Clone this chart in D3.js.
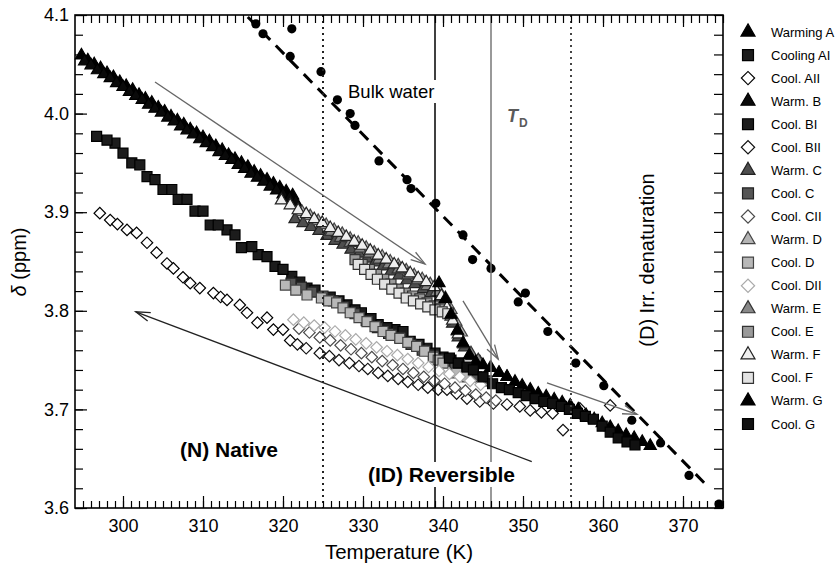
<!DOCTYPE html>
<html><head><meta charset="utf-8">
<script src="https://cdn.jsdelivr.net/npm/d3@7"></script>
<style>body{margin:0;background:#fff} svg{display:block}</style>
</head><body><svg id="c" width="836" height="566"></svg>
<script>
// ---------------- DATA ----------------
const xTicks = [300, 310, 320, 330, 340, 350, 360, 370];
const yTicks = [3.6, 3.7, 3.8, 3.9, 4.0, 4.1];

const warmA_T = [294.8,295.6,296.4,297.2,298.0,298.8,299.6,300.4,301.2,302.0,302.8,303.6,304.4,305.2,306.0,306.8,307.6,308.4,309.2,310.0,310.8,311.6,312.4,313.2,314.0,314.8,315.6,316.4,317.2,318.0,318.8,319.6,320.4,321.2];
const warmA_d = [4.059,4.054,4.050,4.046,4.041,4.037,4.032,4.028,4.024,4.019,4.015,4.011,4.006,4.002,3.997,3.993,3.989,3.984,3.980,3.976,3.972,3.967,3.963,3.958,3.954,3.950,3.946,3.941,3.937,3.933,3.929,3.925,3.921,3.917];

const coolAI_T = [296.7,299.0,301.1,303.0,305.0,306.9,309.0,310.9,313.0,314.8,316.9,319.0,321.1,323.0,325.9,328.0,329.8,331.9,334.0,335.9,338.0,340.0];
const coolAI_d = [3.977,3.970,3.950,3.936,3.923,3.913,3.901,3.887,3.882,3.864,3.857,3.845,3.835,3.823,3.814,3.806,3.798,3.786,3.781,3.769,3.762,3.753];

const coolAII_T = [297.1,298.4,299.3,300.5,301.7,303.0,304.2,305.5,306.3,307.5,308.4,309.6,311.3,312.2,313.0,314.6,315.5,316.8,318.0,318.8,320.0,320.9];
const coolAII_d = [3.899,3.892,3.888,3.882,3.879,3.869,3.859,3.848,3.843,3.834,3.828,3.823,3.818,3.814,3.811,3.806,3.798,3.788,3.793,3.781,3.781,3.770];

const warmB_T = [295.2,296.0,296.8,297.6,298.4,299.2,300.0,300.8,301.6,302.4,303.2,304.0,304.8,305.6,306.4,307.2,308.0,308.8,309.6,310.4,311.2,312.0,312.8,313.6,314.4,315.2,316.0,316.8,317.6,318.4,319.2,320.0,320.8,321.6];
const warmB_d = [4.053,4.049,4.044,4.040,4.036,4.031,4.027,4.022,4.018,4.014,4.009,4.005,4.001,3.996,3.992,3.987,3.983,3.979,3.974,3.970,3.966,3.961,3.957,3.953,3.948,3.944,3.939,3.935,3.931,3.926,3.922,3.918,3.914,3.910];

const coolBI_T = [298.0,300.0,302.1,304.0,306.1,308.0,310.0,311.9,314.0,316.1,318.0,320.0,322.1,324.0,327.0,329.0,331.0,333.0,335.0,337.0,339.0,341.0,342.0];
const coolBI_d = [3.973,3.960,3.948,3.933,3.923,3.913,3.901,3.887,3.877,3.865,3.855,3.842,3.829,3.821,3.810,3.801,3.792,3.783,3.779,3.766,3.757,3.750,3.747];

const coolBII_T = [321.8,322.9,324.6,325.8,327.0,328.3,329.5,330.6,331.9,333.1,334.4,335.6,336.9,338.1,339.4,340.5,341.7,343.0,344.6,346.3,348.0,349.6,350.9,352.3,353.7,355.0,357.1,360.9];
const coolBII_d = [3.766,3.762,3.757,3.754,3.750,3.747,3.744,3.741,3.737,3.734,3.731,3.728,3.725,3.722,3.720,3.720,3.716,3.711,3.708,3.706,3.705,3.703,3.699,3.697,3.696,3.679,3.701,3.704];

const warmC_T = [321.5,322.5,323.5,324.5,325.5,326.5,327.5,328.5,329.5,330.5,331.5,332.5,333.5,334.5,335.5,336.5,337.5,338.5,339.5,340.4,341.2,341.9,342.7,343.6,344.6,345.9,347.0,348.0];
const warmC_d = [3.893,3.889,3.885,3.881,3.876,3.871,3.867,3.862,3.858,3.853,3.849,3.845,3.840,3.836,3.831,3.827,3.822,3.818,3.811,3.800,3.787,3.773,3.763,3.754,3.748,3.742,3.737,3.733];

const coolC_T = [321.0,322.3,323.6,325.0,326.3,327.6,329.0,330.4,331.8,333.2,334.6,336.0,337.4,338.8,340.2,341.5,342.8,344.2,345.5];
const coolC_d = [3.828,3.824,3.819,3.815,3.810,3.804,3.797,3.790,3.783,3.777,3.773,3.766,3.760,3.755,3.749,3.743,3.737,3.733,3.729];

const coolCII_T = [322.0,323.3,324.6,325.9,327.2,328.5,329.8,331.1,332.4,333.7,335.0,336.3,337.6,338.9,340.2,341.5,342.8,344.1,345.4,346.6];
const coolCII_d = [3.782,3.778,3.773,3.770,3.765,3.761,3.757,3.753,3.749,3.745,3.741,3.737,3.733,3.729,3.726,3.722,3.719,3.715,3.712,3.709];

const warmD_T = [322.4,323.4,324.4,325.4,326.4,327.4,328.4,329.4,330.4,331.4,332.4,333.4,334.4,335.4,336.4,337.4,338.4,339.4,340.3,341.0,341.6,342.3];
const warmD_d = [3.900,3.896,3.891,3.887,3.882,3.878,3.873,3.869,3.864,3.859,3.855,3.850,3.846,3.841,3.836,3.832,3.827,3.822,3.813,3.801,3.789,3.778];

const coolD_T = [320.3,321.6,323.0,324.8,325.7,326.7,327.5,328.4,329.5,330.5,331.5,332.5,333.5,334.6,335.6,336.7,337.7,338.8,339.4,340.0,341.7,343.0];
const coolD_d = [3.826,3.821,3.816,3.813,3.810,3.808,3.803,3.798,3.793,3.789,3.784,3.779,3.775,3.772,3.768,3.764,3.759,3.753,3.750,3.747,3.737,3.733];

const coolDII_T = [321.3,322.6,323.9,325.2,326.5,327.8,329.1,330.4,331.7,333.0,334.3,335.6,336.9,338.2,339.5,340.8,342.1,343.4,344.7];
const coolDII_d = [3.791,3.788,3.785,3.783,3.779,3.775,3.771,3.767,3.763,3.759,3.755,3.751,3.747,3.743,3.739,3.736,3.733,3.729,3.725];

const warmE_T = [326.0,327.2,328.4,329.6,330.8,332.0,333.2,334.4,335.6,336.8,338.0,339.2,340.2,341.0,341.8,342.6,343.5,344.4];
const warmE_d = [3.880,3.874,3.869,3.863,3.858,3.852,3.847,3.842,3.836,3.831,3.825,3.819,3.808,3.794,3.779,3.766,3.757,3.750];

const coolE_T = [329.0,329.9,330.8,331.7,332.6,333.5,334.4,335.3,336.2,337.1,338.0,338.9,339.8,340.7];
const coolE_d = [3.852,3.847,3.842,3.837,3.832,3.827,3.822,3.818,3.815,3.812,3.808,3.805,3.802,3.798];

const warmF_T = [319.8,320.9,321.9,322.9,323.9,324.9,325.9,326.9,327.9,328.9,329.9,330.9,331.9,332.9,333.9,334.9,335.9,336.9,337.9,338.9,339.8,340.5,341.2,341.9];
const warmF_d = [3.912,3.907,3.902,3.898,3.893,3.889,3.884,3.879,3.875,3.870,3.866,3.861,3.856,3.852,3.847,3.843,3.838,3.833,3.829,3.824,3.815,3.803,3.790,3.776];

const coolF_T = [329.4,330.2,331.0,331.8,332.7,333.6,334.5,335.4,336.3,337.2,338.1,339.0,339.9,340.6];
const coolF_d = [3.847,3.842,3.837,3.832,3.827,3.822,3.818,3.813,3.810,3.807,3.804,3.801,3.799,3.797];

const warmG_T = [339.5,340.3,341.0,341.8,342.5,343.3,344.1,345.0,346.0,347.0,348.0,349.0,349.9,350.9,351.9,352.9,353.9,354.9,355.9,356.9,357.9,358.9,359.9,360.9,361.9,362.9,363.9,364.9,365.9];
const warmG_d = [3.828,3.812,3.796,3.780,3.767,3.755,3.748,3.745,3.742,3.737,3.733,3.728,3.724,3.720,3.716,3.713,3.710,3.707,3.704,3.700,3.694,3.690,3.686,3.682,3.678,3.674,3.671,3.667,3.663];

const coolG_T = [340.8,341.9,343.0,343.8,345.0,346.2,347.3,348.3,349.4,350.4,351.5,352.6,353.7,354.8,355.8,356.8,357.8,358.8,359.9,360.9,361.9,363.0,364.0];
const coolG_d = [3.752,3.747,3.743,3.740,3.733,3.726,3.722,3.720,3.717,3.714,3.711,3.708,3.706,3.703,3.700,3.696,3.693,3.690,3.683,3.677,3.671,3.667,3.664];

// bulk water
const bulkT = [316.6,317.5,321.1,320.9,324.75,326.8,328.4,329.0,332.0,335.5,336.0,339.1,342.5,343.7,346.0,350.3,349.4,353.1,356.6,360.1,363.6,367.2,370.75,374.5];
const bulkD = [4.091,4.081,4.086,4.058,4.0425,4.014,4.000,3.988,3.952,3.933,3.924,3.909,3.877,3.852,3.843,3.818,3.809,3.779,3.747,3.724,3.689,3.666,3.633,3.604];
const bulkLineT = [315.6, 373.2];
const bulkLineD = [4.098, 3.621];

// vertical reference temperatures
const vlineT = [325, 339, 346, 356];

// arrows (from -> to)
const arrowFromT = [304.0, 342.5, 353.0, 351.1];
const arrowFromD = [4.032, 3.810, 3.727, 3.647];
const arrowToT   = [337.75, 346.9, 364.25, 301.6];
const arrowToD   = [3.8475, 3.751, 3.695, 3.799];

const seriesNames = ["Warming A","Cooling AI","Cool. AII","Warm. B","Cool. BI","Cool. BII","Warm. C","Cool. C","Cool. CII","Warm. D","Cool. D","Cool. DII","Warm. E","Cool. E","Warm. F","Cool. F","Warm. G","Cool. G"];
const seriesT = [warmA_T,coolAI_T,coolAII_T,warmB_T,coolBI_T,coolBII_T,warmC_T,coolC_T,coolCII_T,warmD_T,coolD_T,coolDII_T,warmE_T,coolE_T,warmF_T,coolF_T,warmG_T,coolG_T];
const seriesD = [warmA_d,coolAI_d,coolAII_d,warmB_d,coolBI_d,coolBII_d,warmC_d,coolC_d,coolCII_d,warmD_d,coolD_d,coolDII_d,warmE_d,coolE_d,warmF_d,coolF_d,warmG_d,coolG_d];

// ---------------- STYLE ----------------
const styles = [
  {shape:"tri", fill:"#000", stroke:"#000"},
  {shape:"sq",  fill:"#1c1c1c", stroke:"#000"},
  {shape:"dia", fill:"#fff", stroke:"#000"},
  {shape:"tri", fill:"#0a0a0a", stroke:"#000"},
  {shape:"sq",  fill:"#1c1c1c", stroke:"#000"},
  {shape:"dia", fill:"#fff", stroke:"#111"},
  {shape:"tri", fill:"#4e4e4e", stroke:"#222"},
  {shape:"sq",  fill:"#555", stroke:"#222"},
  {shape:"dia", fill:"#fff", stroke:"#4a4a4a"},
  {shape:"tri", fill:"#b4b4b4", stroke:"#444"},
  {shape:"sq",  fill:"#b8b8b8", stroke:"#444"},
  {shape:"dia", fill:"#fff", stroke:"#aaa"},
  {shape:"tri", fill:"#888", stroke:"#333"},
  {shape:"sq",  fill:"#9a9a9a", stroke:"#333"},
  {shape:"tri", fill:"#efefef", stroke:"#222"},
  {shape:"sq",  fill:"#e2e2e2", stroke:"#333"},
  {shape:"tri", fill:"#000", stroke:"#000"},
  {shape:"sq",  fill:"#111", stroke:"#000"}
];
const FONT = "'Liberation Sans', Arial, Helvetica, sans-serif";

const svg = d3.select("#c");
const x = d3.scaleLinear().domain([294, 375]).range([75, 723]);
const y = d3.scaleLinear().domain([3.6, 4.1]).range([508, 15]);

function symbolPath(shape, big) {
  if (shape === "tri") return d3.symbol(d3.symbolTriangle, big ? 85 : 64)();
  if (shape === "sq") return d3.symbol(d3.symbolSquare, big ? 120 : 100)();
  return d3.symbol(d3.symbolSquare, big ? 88 : 66)();
}
function drawMarker(g, st, px, py, big) {
  g.append("path")
    .attr("d", symbolPath(st.shape, big))
    .attr("transform", `translate(${px},${py})` + (st.shape === "dia" ? " rotate(45)" : ""))
    .attr("fill", st.fill).attr("stroke", st.stroke).attr("stroke-width", 1.2);
}

// bulk water dots
svg.append("g").selectAll("circle").data(bulkT.map((t,i)=>[t,bulkD[i]])).join("circle")
  .attr("cx", d=>x(d[0])).attr("cy", d=>y(d[1])).attr("r", 4.6).attr("fill", "#000");

// series
const gS = svg.append("g");
seriesNames.forEach((name, si) => {
  const g = gS.append("g");
  seriesT[si].forEach((t, i) => drawMarker(g, styles[si], x(t), y(seriesD[si][i]), false));
});

// bulk water dashed line
svg.append("line")
  .attr("x1", x(bulkLineT[0])).attr("y1", y(bulkLineD[0]))
  .attr("x2", x(bulkLineT[1])).attr("y2", y(bulkLineD[1]))
  .attr("stroke", "#000").attr("stroke-width", 3).attr("stroke-dasharray", "12,8");

// labels (drawn to measure for gaps)
const gL = svg.append("g").attr("font-family", FONT);
const bulkLbl = gL.append("text").attr("x", 348).attr("y", 98).attr("font-size", 18.5).text("Bulk water");
const idLbl = gL.append("text").attr("x", 368).attr("y", 482).attr("font-size", 21).attr("font-weight", "bold").text("(ID) Reversible");
gL.append("text").attr("x", 180).attr("y", 457).attr("font-size", 21).attr("font-weight", "bold").text("(N) Native");
const td = gL.append("text").attr("x", 507).attr("y", 122).attr("fill", "#5a5a5a").attr("font-weight", "bold");
td.append("tspan").attr("font-size", 18).attr("font-style", "italic").text("T");
td.append("tspan").attr("font-size", 12).attr("dy", 5).attr("dx", 1).text("D");
gL.append("text").attr("transform", "translate(654,260) rotate(-90)").attr("text-anchor", "middle")
  .attr("font-size", 20).text("(D) Irr. denaturation");

const gaps = [bulkLbl, idLbl].map(s => s.node().getBBox());

// vertical lines
const vStyles = [
  {stroke:"#222", w:2, dash:"2,4"},
  {stroke:"#000", w:1.5, dash:null},
  {stroke:"#777", w:1.5, dash:null},
  {stroke:"#444", w:2, dash:"2,4"}
];
vlineT.forEach((t, i) => {
  const px = x(t);
  let segs = [[y.range()[1], y.range()[0]]];
  gaps.forEach(b => {
    if (px >= b.x - 4 && px <= b.x + b.width + 4) {
      const ns = [];
      segs.forEach(([a, c]) => {
        const g0 = b.y - 1, g1 = b.y + b.height + 1;
        if (g1 <= a || g0 >= c) { ns.push([a, c]); return; }
        if (g0 > a) ns.push([a, g0]);
        if (g1 < c) ns.push([g1, c]);
      });
      segs = ns;
    }
  });
  segs.forEach(([a, c]) => {
    const ln = svg.append("line").attr("x1", px).attr("x2", px).attr("y1", a).attr("y2", c)
      .attr("stroke", vStyles[i].stroke).attr("stroke-width", vStyles[i].w);
    if (vStyles[i].dash) ln.attr("stroke-dasharray", vStyles[i].dash);
  });
});

// arrows
const arrowColors = ["#666", "#666", "#666", "#222"];
arrowFromT.forEach((t, i) => {
  const x1 = x(t), y1 = y(arrowFromD[i]), x2 = x(arrowToT[i]), y2 = y(arrowToD[i]);
  const g = svg.append("g").attr("stroke", arrowColors[i]).attr("stroke-width", 1.3).attr("fill", "none");
  g.append("line").attr("x1", x1).attr("y1", y1).attr("x2", x2).attr("y2", y2);
  const a = Math.atan2(y2 - y1, x2 - x1), L = 15, h = 0.3;
  g.append("path").attr("d", d3.line()([
    [x2 - L * Math.cos(a - h), y2 - L * Math.sin(a - h)], [x2, y2],
    [x2 - L * Math.cos(a + h), y2 - L * Math.sin(a + h)]]));
});

// axes
const minorX = d3.range(295, 376);
const minorY = d3.range(0, 26).map(i => +(3.6 + i * 0.02).toFixed(2));
function styleAxis(g) { g.select(".domain").remove(); g.selectAll("line").attr("stroke", "#000").attr("stroke-width", 1.2); }
svg.append("g").attr("transform", "translate(0,508)")
  .call(d3.axisBottom(x).tickValues(minorX).tickSizeInner(-7).tickSizeOuter(0).tickFormat("")).call(styleAxis);
svg.append("g").attr("transform", "translate(0,508)")
  .call(d3.axisBottom(x).tickValues(xTicks).tickSizeInner(-12).tickSizeOuter(0).tickPadding(11).tickFormat(d3.format("d")))
  .call(styleAxis).selectAll("text").attr("font-family", FONT).attr("font-size", 18).attr("fill", "#000");
svg.append("g").attr("transform", "translate(0,15)")
  .call(d3.axisTop(x).tickValues(minorX).tickSizeInner(-8).tickSizeOuter(0).tickFormat("")).call(styleAxis);
svg.append("g").attr("transform", "translate(0,15)")
  .call(d3.axisTop(x).tickValues(xTicks).tickSizeInner(-12).tickSizeOuter(0).tickFormat("")).call(styleAxis);
svg.append("g").attr("transform", "translate(75,0)")
  .call(d3.axisLeft(y).tickValues(minorY).tickSizeInner(-8).tickSizeOuter(0).tickFormat("")).call(styleAxis);
svg.append("g").attr("transform", "translate(75,0)")
  .call(d3.axisLeft(y).tickValues(yTicks).tickSizeInner(-12).tickSizeOuter(0).tickPadding(6).tickFormat(d3.format(".1f")))
  .call(styleAxis).selectAll("text").attr("font-family", FONT).attr("font-size", 18).attr("fill", "#000");
svg.append("g").attr("transform", "translate(723,0)")
  .call(d3.axisRight(y).tickValues(minorY).tickSizeInner(-9).tickSizeOuter(0).tickFormat("")).call(styleAxis);

// frame
svg.append("rect").attr("x", 75).attr("y", 15).attr("width", 648).attr("height", 493)
  .attr("fill", "none").attr("stroke", "#000").attr("stroke-width", 1.6);

// axis titles
svg.append("text").attr("x", 399).attr("y", 559).attr("text-anchor", "middle")
  .attr("font-family", FONT).attr("font-size", 20.5).text("Temperature (K)");
const yl = svg.append("text").attr("transform", "translate(26,262) rotate(-90)").attr("text-anchor", "middle")
  .attr("font-family", FONT).attr("font-size", 20);
yl.append("tspan").attr("font-style", "italic").text("δ");
yl.append("tspan").text(" (ppm)");

// legend
const legend = svg.append("g").attr("font-family", FONT).attr("font-size", 13);
seriesNames.forEach((name, i) => {
  const ly = 32 + i * 23.06;
  drawMarker(legend, styles[i], 748, ly, true);
  legend.append("text").attr("x", 771).attr("y", ly + 4.5).text(name);
});
</script></body></html>
